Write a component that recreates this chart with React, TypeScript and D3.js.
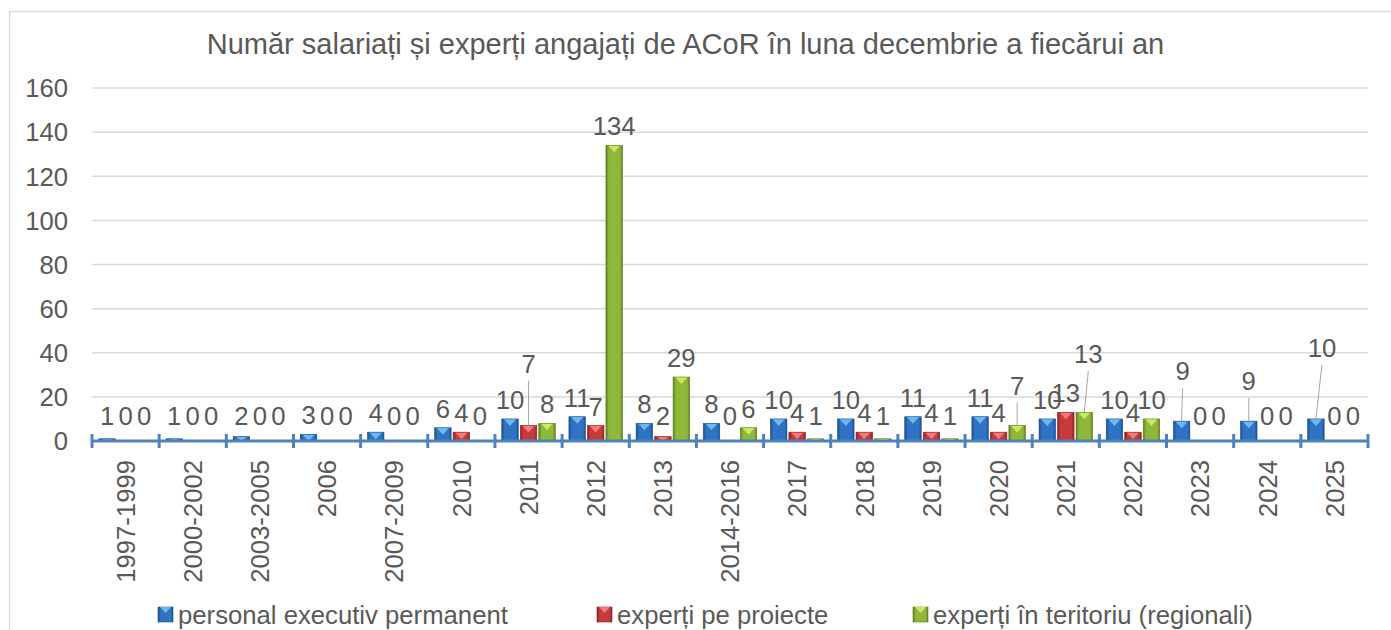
import React from 'react';
import * as d3 from 'd3';

// chart data
const categories = ['1997-1999', '2000-2002', '2003-2005', '2006', '2007-2009', '2010', '2011', '2012', '2013', '2014-2016', '2017', '2018', '2019', '2020', '2021', '2022', '2023', '2024', '2025'];
const personalExecutiv = [1, 1, 2, 3, 4, 6, 10, 11, 8, 8, 10, 10, 11, 11, 10, 10, 9, 9, 10];
const expertiProiecte = [0, 0, 0, 0, 0, 4, 7, 7, 2, 0, 4, 4, 4, 4, 13, 4, 0, 0, 0];
const expertiTeritoriu = [0, 0, 0, 0, 0, 0, 8, 134, 29, 6, 1, 1, 1, 7, 13, 10, 0, 0, 0];
const seriesNames = ['personal executiv permanent', 'experți pe proiecte', 'experți în teritoriu (regionali)'];
const yTicks = [0, 20, 40, 60, 80, 100, 120, 140, 160];
const title = 'Număr salariați și experți angajați de ACoR în luna decembrie a fiecărui an';

// labels that Excel moved away from their bar (drawn with a leader line)
const movedLabels: Record<string, { dx: number; dy: number }> = {
  '1|2011': { dx: 0, dy: -43 },
  '2|2020': { dx: 0, dy: -21 },
  '2|2021': { dx: 4, dy: -39 },
  '0|2023': { dx: 1, dy: -31 },
  '0|2024': { dx: 0, dy: -21 },
  '0|2025': { dx: 6, dy: -52 },
};

const palette = [
  { dark: '#1d4f8c', main: '#2f74c4', light: '#6db8f2' },
  { dark: '#8e1f22', main: '#c73a3c', light: '#f47a78' },
  { dark: '#5f7d1e', main: '#8fb83a', light: '#c6ea62' },
];

const font = '"Liberation Sans", Arial, sans-serif';
const textColor = '#595959';
const labelSize = 25.7;

const App = () => {
  const width = 1391;
  const height = 630;
  const marginLeft = 92;
  const marginRight = 23;
  const marginTop = 88;
  const axisY = 441;

  const values = [personalExecutiv, expertiProiecte, expertiTeritoriu];

  const x = d3.scaleBand<string>()
    .domain(categories)
    .range([marginLeft, width - marginRight])
    .paddingInner(0)
    .paddingOuter(0);

  const xs = d3.scaleBand<number>()
    .domain([0, 1, 2])
    .range([0, x.bandwidth()])
    .paddingInner(0.108)
    .paddingOuter(0.369);

  const y = d3.scaleLinear()
    .domain([0, 160])
    .range([axisY, marginTop]);

  const bw = xs.bandwidth();

  const bars = values.flatMap((vals, s) =>
    vals.map((v, i) => {
      const bx = (x(categories[i]) ?? 0) + (xs(s) ?? 0);
      return { s, i, v, bx, top: y(v), cx: bx + bw / 2 };
    })
  );

  return (
    <svg width={width} height={height} style={{ position: 'absolute', left: 0, top: 0, background: '#fff' }}
      fontFamily={font}>
      <defs>
        {palette.map((p, s) => (
          <linearGradient key={s} id={`grad${s}`} x1="0" x2="1" y1="0" y2="0">
            <stop offset="0%" stopColor={p.dark} />
            <stop offset="18%" stopColor={p.main} />
            <stop offset="55%" stopColor={p.main} />
            <stop offset="85%" stopColor={p.main} />
            <stop offset="100%" stopColor={p.dark} />
          </linearGradient>
        ))}
      </defs>

      {/* chart frame */}
      <rect x={9.5} y={11.5} width={width + 20} height={height + 20} fill="none" stroke="#d9d9d9" strokeWidth={1.3} />

      {/* title */}
      <text x={685.5} y={54} textAnchor="middle" fontSize={29} fill={textColor}>{title}</text>

      {/* gridlines and y labels */}
      {yTicks.map(t => (
        <g key={t}>
          {t > 0 && (
            <line x1={marginLeft} x2={width - marginRight} y1={y(t)} y2={y(t)} stroke="#d9d9d9" strokeWidth={1.5} />
          )}
          <text x={68} y={y(t)} dy="0.36em" textAnchor="end" fontSize={labelSize} fill={textColor}>{t}</text>
        </g>
      ))}

      {/* bars */}
      {bars.filter(b => b.v > 0).map(b => {
        const h = axisY - b.top;
        const th = Math.min(7, h);
        const p = palette[b.s];
        return (
          <g key={`${b.s}-${b.i}`}>
            <rect x={b.bx} y={b.top} width={bw} height={h} fill={`url(#grad${b.s})`} />
            <polygon
              points={`${b.bx + 2},${b.top} ${b.bx + bw - 2},${b.top} ${b.cx},${b.top + th}`}
              fill={p.light}
            />
            <rect x={b.bx} y={b.top} width={bw} height={h} fill="none" stroke={p.dark} strokeWidth={0.6} />
          </g>
        );
      })}

      {/* x axis */}
      <line x1={marginLeft} x2={width - marginRight} y1={axisY} y2={axisY} stroke="#4f81bd" strokeWidth={3} />
      {d3.range(categories.length + 1).map(k => {
        const tx = marginLeft + k * x.step();
        return <line key={k} x1={tx} x2={tx} y1={axisY - 7} y2={axisY + 7} stroke="#4f81bd" strokeWidth={3} />;
      })}
      {categories.map(c => (
        <text key={c} transform={`translate(${(x(c) ?? 0) + x.bandwidth() / 2},460) rotate(-90)`}
          dy="0.36em" textAnchor="end" fontSize={labelSize} fill={textColor}>{c}</text>
      ))}

      {/* data labels */}
      {bars.map(b => {
        const key = `${b.s}|${categories[b.i]}`;
        const moved = movedLabels[key];
        const base = Math.min(b.top - 10, y(0) - 16);
        if (!moved) {
          return (
            <text key={key} x={b.cx} y={base} textAnchor="middle" fontSize={labelSize} fill={textColor}>{b.v}</text>
          );
        }
        const lx = b.cx + moved.dx;
        const ly = base + moved.dy;
        return (
          <g key={key}>
            <line x1={lx} y1={ly + 8} x2={b.cx} y2={b.top} stroke="#a6a6a6" strokeWidth={1} />
            <text x={lx} y={ly} textAnchor="middle" fontSize={labelSize} fill={textColor}>{b.v}</text>
          </g>
        );
      })}

      {/* legend */}
      {seriesNames.map((name, s) => {
        const lx = [158, 597, 913][s];
        const p = palette[s];
        return (
          <g key={name}>
            <rect x={lx} y={607} width={15} height={15} fill={`url(#grad${s})`} stroke={p.dark} strokeWidth={0.6} />
            <polygon points={`${lx + 2},${607} ${lx + 13},${607} ${lx + 7.5},${613}`} fill={p.light} />
            <text x={lx + 20} y={614.5} dy="0.36em" fontSize={labelSize} fill={textColor}>{name}</text>
          </g>
        );
      })}
    </svg>
  );
};

export default App;
